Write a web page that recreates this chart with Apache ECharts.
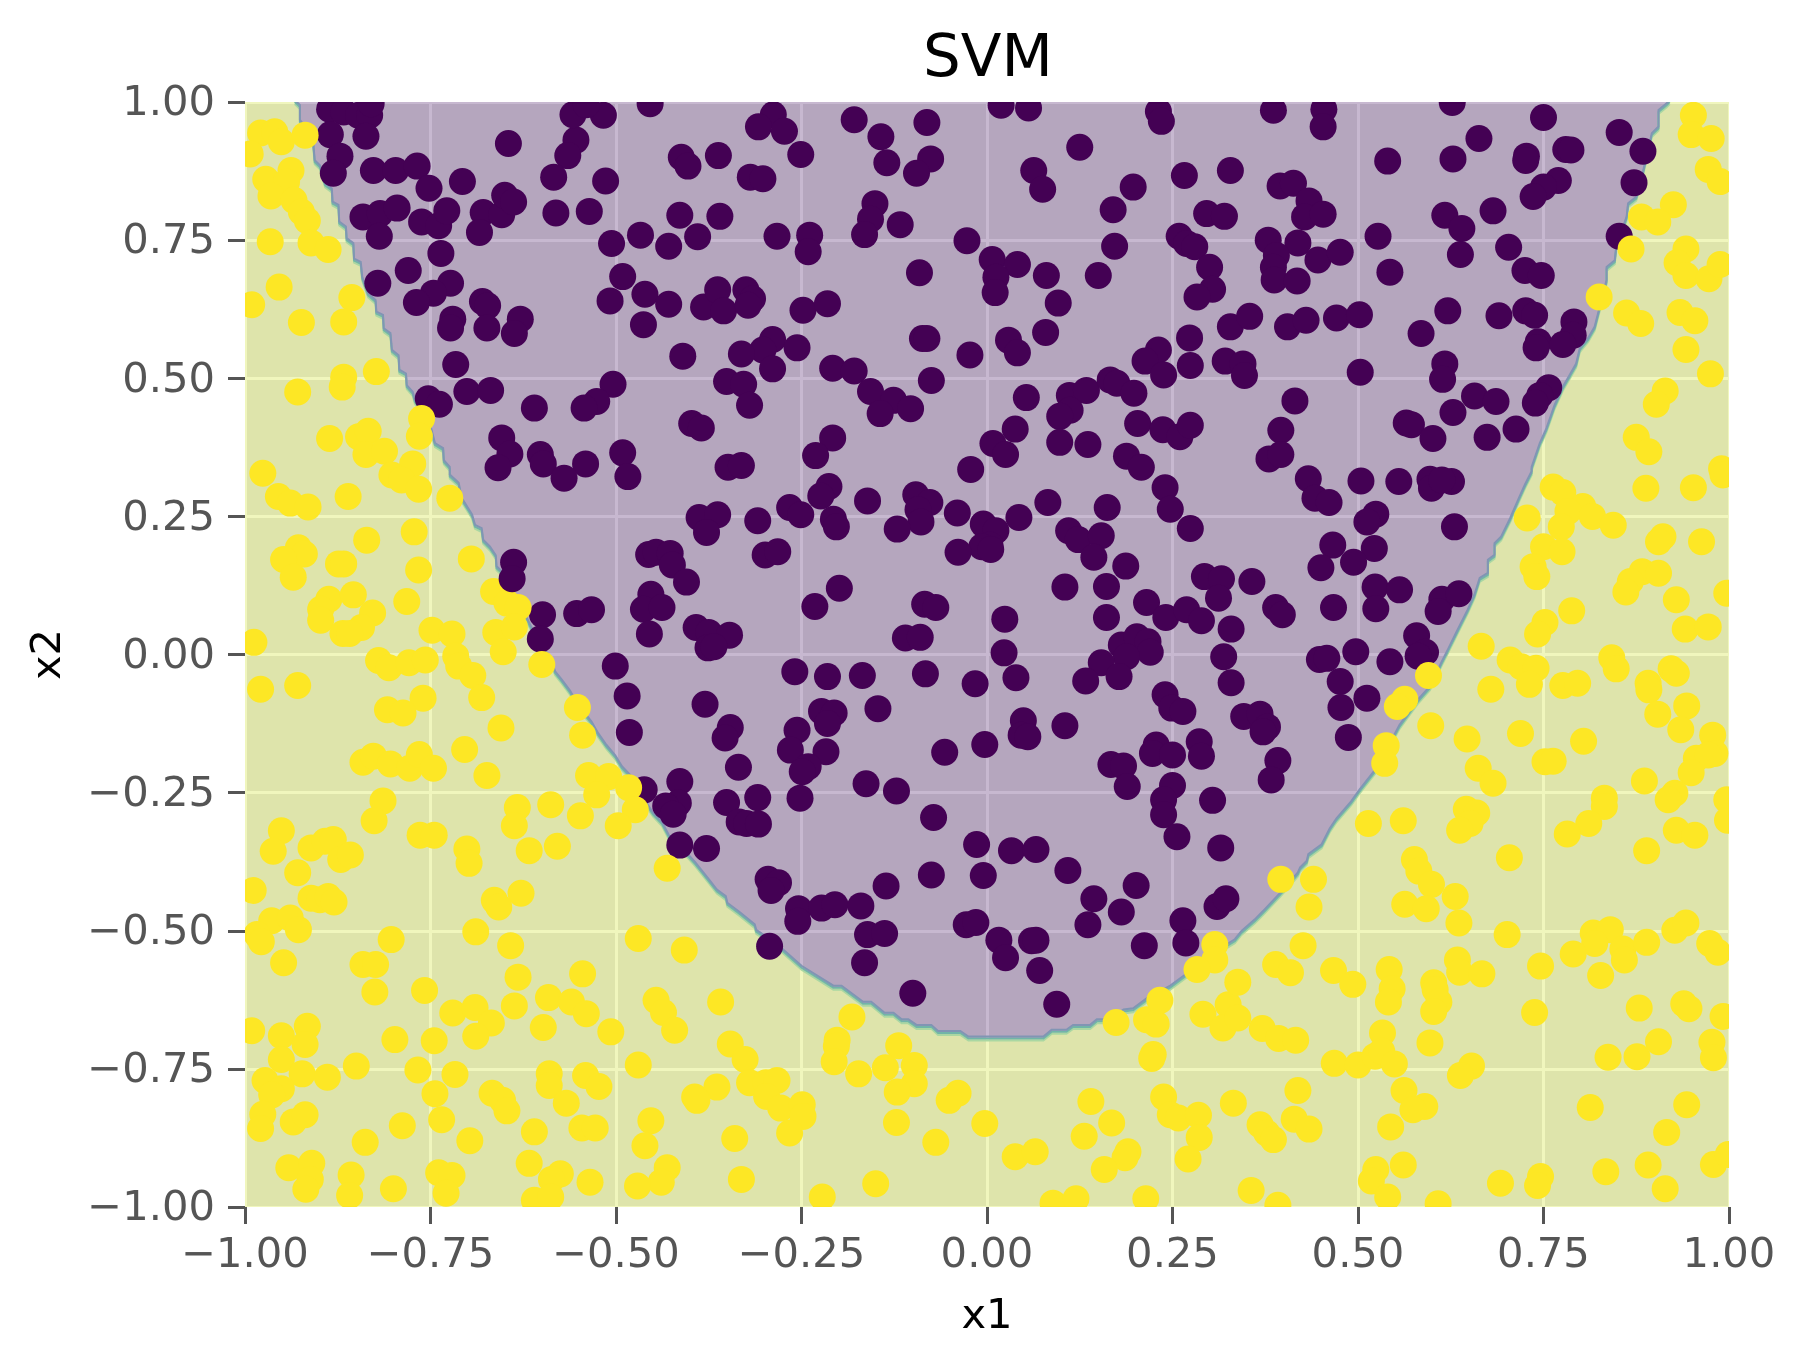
<!DOCTYPE html>
<html>
<head>
<meta charset="utf-8">
<title>SVM</title>
<script src="https://cdn.jsdelivr.net/npm/echarts@6/dist/echarts.min.js"></script>
<style>
html,body{margin:0;padding:0;background:#fff}
#chart{width:1807px;height:1365px}
</style>
</head>
<body>
<div id="chart"></div>
<script>
const axisTicks = [-1, -0.75, -0.5, -0.25, 0, 0.25, 0.5, 0.75, 1];

// Decision boundary of the classifier, walked from the top left over the bottom to the top right.
const decisionEdge = [
[-.933,1],[-.926,.991],[-.926,.964],[-.912,.94],[-.908,.922],[-.906,.891],[-.899,.882],[-.892,.849],[-.883,.84],[-.882,.816],
[-.874,.81],[-.873,.78],[-.864,.771],[-.863,.75],[-.854,.741],[-.853,.713],[-.844,.707],[-.842,.68],[-.834,.65],[-.824,.638],
[-.823,.617],[-.814,.611],[-.813,.587],[-.804,.578],[-.802,.548],[-.793,.538],[-.792,.512],[-.783,.505],[-.782,.484],[-.774,.472],
[-.771,.457],[-.762,.442],[-.751,.415],[-.744,.379],[-.733,.37],[-.732,.348],[-.724,.336],[-.724,.322],[-.712,.307],[-.708,.28],
[-.694,.25],[-.69,.231],[-.681,.225],[-.679,.204],[-.67,.192],[-.662,.176],[-.661,.156],[-.653,.146],[-.641,.111],[-.627,.087],
[-.62,.062],[-.611,.038],[-.602,.014],[-.589,-.007],[-.582,-.034],[-.573,-.049],[-.562,-.069],[-.551,-.094],[-.533,-.125],[-.524,-.146],
[-.513,-.167],[-.501,-.186],[-.492,-.206],[-.479,-.224],[-.459,-.272],[-.45,-.29],[-.438,-.307],[-.429,-.33],[-.416,-.348],[-.403,-.365],
[-.393,-.38],[-.375,-.41],[-.364,-.429],[-.352,-.441],[-.35,-.453],[-.333,-.47],[-.313,-.492],[-.311,-.502],[-.299,-.513],[-.275,-.537],
[-.25,-.567],[-.207,-.603],[-.196,-.603],[-.167,-.632],[-.156,-.632],[-.138,-.652],[-.126,-.652],[-.115,-.664],[-.106,-.664],[-.095,-.674],
[-.075,-.674],[-.066,-.685],[-.036,-.685],[-.025,-.695],[.076,-.695],[.087,-.683],[.107,-.683],[.116,-.674],[.139,-.674],[.148,-.664],
[.166,-.664],[.184,-.646],[.197,-.644],[.215,-.626],[.247,-.603],[.265,-.585],[.287,-.564],[.305,-.543],[.334,-.519],[.343,-.504],
[.361,-.483],[.372,-.468],[.395,-.435],[.419,-.398],[.422,-.389],[.431,-.377],[.433,-.365],[.451,-.347],[.462,-.318],[.471,-.3],
[.491,-.269],[.502,-.248],[.516,-.224],[.525,-.209],[.556,-.131],[.568,-.109],[.581,-.085],[.597,-.061],[.613,-.016],[.622,.008],
[.633,.038],[.648,.078],[.657,.105],[.664,.135],[.675,.144],[.675,.168],[.684,.177],[.684,.198],[.693,.21],[.705,.243],
[.716,.277],[.725,.304],[.734,.328],[.734,.336],[.745,.379],[.754,.406],[.765,.448],[.776,.481],[.785,.502],[.794,.523],
[.799,.551],[.81,.569],[.819,.59],[.835,.674],[.835,.698],[.846,.71],[.848,.735],[.862,.789],[.864,.813],[.875,.825],
[.884,.87],[.896,.94],[.905,.952],[.905,.982],[.916,.994],[.92,1]
];

// Samples labelled 0 (dark markers).
const classZero = [
[-.886,.987],[-.867,.982],[-.847,.976],[-.832,.976],[-.83,.997],[-.885,.941],[-.837,.938],[-.872,.902],[-.881,.871],[-.827,.876],
[-.797,.876],[-.768,.884],[-.752,.844],[-.707,.856],[-.841,.792],[-.818,.798],[-.795,.808],[-.819,.757],[-.762,.783],[-.739,.776],
[-.728,.803],[-.679,.8],[-.654,.796],[-.65,.831],[-.638,.819],[-.684,.764],[-.736,.726],[-.78,.695],[-.821,.672],[-.723,.672],
[-.746,.654],[-.769,.637],[-.68,.639],[-.673,.631],[-.72,.607],[-.723,.591],[-.674,.591],[-.629,.607],[-.637,.581],[-.716,.525],
[-.753,.463],[-.738,.453],[-.701,.476],[-.669,.478],[-.61,.446],[-.504,.489],[-.526,.458],[-.543,.446],[-.654,.392],[-.643,.363],
[-.602,.362],[-.598,.345],[-.659,.338],[-.541,.345],[-.491,.365],[-.645,.925],[-.554,.931],[-.565,.903],[-.584,.864],[-.558,.977],
[-.517,.976],[-.54,.995],[-.454,.997],[-.514,.857],[-.581,.799],[-.536,.802],[-.506,.744],[-.467,.759],[-.429,.739],[-.414,.795],
[-.36,.793],[-.39,.756],[-.412,.9],[-.403,.884],[-.362,.903],[-.491,.684],[-.461,.652],[-.508,.64],[-.429,.634],[-.463,.597],
[-.382,.629],[-.363,.66],[-.355,.622],[-.41,.54],[-.351,.494],[-.398,.418],[-.385,.41],[-.349,.339],
[-.288,.977],[-.308,.955],[-.273,.947],[-.251,.905],[-.319,.864],[-.302,.861],[-.179,.968],[-.143,.937],[-.081,.963],[-.135,.89],
[-.076,.897],[-.095,.871],[-.151,.816],[-.157,.788],[-.165,.76],[-.117,.778],[-.283,.757],[-.239,.759],[-.241,.729],[-.027,.749],
[-.091,.691],[.007,.715],[.041,.706],[.012,.683],[.011,.655],[.08,.686],[.096,.636],[-.325,.66],[-.316,.644],[-.322,.632],
[-.248,.623],[-.215,.635],[-.087,.572],[-.081,.572],[-.023,.542],[.029,.569],[.041,.546],[.079,.583],[-.289,.57],[-.302,.551],
[-.331,.544],[-.256,.555],[-.289,.517],[-.328,.489],[-.32,.451],[-.208,.518],[-.179,.513],[-.157,.476],[-.126,.46],[-.144,.436],
[-.103,.445],[-.075,.496],[-.208,.392],[-.231,.36],[-.331,.342],[-.022,.335],[.053,.465],[.038,.408],[.008,.382],[.025,.362],
[.111,.469],[.134,.478],[.166,.497],[.175,.491],[.198,.473],[.112,.442],[.098,.431],[.098,.384],[.136,.38],[.203,.418],
[.237,.407],[.26,.394],[.274,.415],[.188,.359],[.208,.339],[.019,.994],[.056,.989],[.125,.918],[.063,.876],[.075,.842],
[.197,.846],[.17,.805],[.266,.867],[.328,.876],[.231,.983],[.235,.965],[.296,.798],[.32,.793],[.259,.757],[.269,.744],
[.28,.738],[.3,.701],[.304,.661],[.283,.647],[.172,.739],[.15,.686],[.328,.593],[.273,.573],[.274,.523],[.321,.531],
[.231,.551],[.213,.531],[.238,.506],
[.386,.985],[.454,.987],[.453,.955],[.627,.999],[.75,.972],[.852,.945],[.884,.911],[.663,.934],[.628,.897],[.54,.893],
[.727,.902],[.726,.894],[.78,.914],[.787,.913],[.872,.854],[.395,.848],[.413,.853],[.434,.821],[.428,.792],[.453,.797],
[.77,.858],[.75,.846],[.736,.829],[.682,.803],[.617,.795],[.64,.771],[.852,.757],[.527,.757],[.379,.75],[.419,.745],
[.39,.722],[.386,.701],[.387,.678],[.418,.676],[.446,.714],[.476,.728],[.543,.692],[.638,.724],[.703,.737],[.725,.695],
[.747,.686],[.354,.612],[.405,.593],[.43,.605],[.471,.609],[.502,.615],[.621,.622],[.585,.581],[.69,.613],[.726,.622],
[.738,.614],[.791,.602],[.79,.578],[.743,.566],[.74,.555],[.776,.561],[.345,.526],[.347,.505],[.503,.511],[.617,.526],
[.614,.498],[.657,.468],[.686,.458],[.757,.483],[.745,.469],[.739,.455],[.628,.438],[.415,.459],[.565,.419],[.572,.416],
[.601,.391],[.674,.393],[.713,.408],[.396,.406],[.38,.354],[.396,.362],
[-.57,.319],[-.484,.322],[-.638,.167],[-.64,.137],[-.599,.072],[-.602,.028],[-.553,.074],[-.533,.081],[-.501,-.021],[-.485,-.075],
[-.482,-.141],[-.38,-.09],[-.388,.248],[-.363,.253],[-.378,.221],[-.456,.181],[-.446,.185],[-.427,.183],[-.424,.162],[-.405,.131],
[-.453,.109],[-.463,.082],[-.438,.085],[-.455,.037],[-.392,.049],[-.375,.04],[-.347,.035],[-.376,.012],[-.368,.014],[-.346,-.132],
[-.353,-.151],[-.335,-.204],[-.414,-.23],[-.462,-.245],[-.416,-.269],[-.433,-.274],[-.423,-.289],[-.351,-.268],[-.334,-.303],
[-.213,.304],[-.224,.287],[-.161,.278],[-.266,.266],[-.251,.253],[-.309,.242],[-.207,.245],[-.203,.231],[-.096,.289],[-.077,.275],
[-.093,.262],[-.089,.24],[-.121,.227],[-.04,.256],[-.005,.236],[.012,.224],[.043,.248],[.082,.275],[.162,.266],[.11,.224],
[.123,.208],[.154,.215],[.144,.176],[.187,.16],[.004,.198],[-.007,.195],[.005,.19],[-.039,.185],[-.299,.18],[-.282,.186],
[-.199,.12],[-.232,.087],[.105,.122],[.161,.123],[.161,.067],[.024,.064],[-.084,.091],[-.069,.085],[-.11,.03],[-.09,.031],
[.023,.003],[.293,.141],[.316,.137],[.312,.102],[.215,.094],[.241,.067],[.269,.081],[.289,.061],[.24,.302],[.247,.263],
[.274,.228],[.181,.017],[.202,.032],[.217,.023],[.22,.004],[.188,-.004],[.154,-.015],[.133,-.048],[.178,-.04],[.329,.046],
[.319,-.004],[.329,-.051],[-.259,-.031],[-.215,-.04],[-.168,-.038],[-.083,-.035],[-.016,-.053],[.039,-.042],[-.147,-.098],[-.223,-.103],
[-.206,-.106],[-.215,-.125],[-.256,-.137],[-.265,-.173],[-.217,-.176],[-.241,-.203],[-.249,-.212],[-.057,-.177],[-.003,-.163],[.049,-.12],
[.046,-.146],[.055,-.149],[.105,-.129],[.24,-.073],[.249,-.097],[.264,-.103],[.286,-.158],[.289,-.184],[.228,-.164],[.223,-.179],
[.25,-.182],[.167,-.199],[.184,-.202],[.189,-.239],[.25,-.237],[.238,-.263],[.238,-.29],[.304,-.264],[.256,-.33],[-.163,-.234],
[-.122,-.247],[-.309,-.259],[-.252,-.26],[-.072,-.295],[-.324,-.306],[-.308,-.307],
[.433,.318],[.504,.314],[.555,.313],[.597,.317],[.599,.301],[.626,.313],[.613,.316],[.442,.283],[.461,.275],[.524,.254],
[.512,.24],[.63,.231],[.466,.198],[.522,.192],[.45,.157],[.494,.167],[.523,.122],[.556,.117],[.357,.132],[.389,.085],
[.398,.072],[.467,.085],[.524,.083],[.613,.1],[.636,.11],[.608,.078],[.579,.034],[.591,.004],[.581,-.003],[.448,-.009],
[.458,-.007],[.497,.005],[.543,-.013],[.476,-.049],[.512,-.079],[.477,-.096],[.346,-.112],[.368,-.108],[.378,-.131],[.372,-.14],
[.487,-.15],[.392,-.192],[.383,-.227],
[-.414,-.345],[-.378,-.351],
[-.014,-.344],[.033,-.355],[.066,-.353],[.109,-.391],[.315,-.35],[-.295,-.407],[-.281,-.413],[-.291,-.427],[-.075,-.399],[-.005,-.4],
[-.136,-.419],[-.254,-.46],[-.255,-.483],[-.223,-.459],[-.205,-.453],[-.17,-.455],[-.161,-.507],[-.138,-.505],[-.165,-.558],[-.293,-.528],
[-.1,-.613],[-.028,-.489],[-.015,-.485],[.016,-.517],[.025,-.549],[.06,-.518],[.066,-.517],[.071,-.572],[.094,-.633],[.144,-.442],
[.136,-.489],[.181,-.466],[.201,-.418],[.212,-.527],[.264,-.482],[.268,-.522],[.31,-.456],[.322,-.442]
];

// Samples labelled 1 that sit beneath the dark markers.
const classOneBelow = [[-.665,.114],[-.647,.093]];

// Samples labelled 1 (yellow markers).
const classOne = [
[-.979,.944],[-.96,.946],[-.951,.928],[-.919,.94],[-.993,.906],[-.972,.86],[-.938,.876],[-.944,.855],[-.965,.83],[-.934,.822],
[-.924,.801],[-.916,.785],[-.966,.747],[-.911,.745],[-.888,.733],[-.954,.665],[-.991,.633],[-.856,.646],[-.924,.601],[-.867,.602],
[-.867,.502],[-.869,.484],[-.823,.512],[-.929,.475],[-.762,.427],[-.765,.395],[-.886,.391],[-.847,.394],[-.834,.404],[-.837,.362],
[-.812,.368],[-.774,.345],
[.952,.976],[.949,.941],[.976,.934],[.972,.878],[.988,.856],[.925,.814],[.882,.792],[.904,.783],[.868,.734],[.942,.734],
[.93,.709],[.942,.686],[.973,.68],[.988,.706],[.825,.647],[.862,.618],[.881,.599],[.934,.619],[.954,.604],[.942,.552],
[.975,.508],[.914,.477],[.902,.453],[.875,.393],[.892,.367],[.99,.336],
[-.976,.328],[-.955,.286],[-.939,.274],[-.915,.267],[-.861,.286],[-.802,.325],[-.789,.316],[-.766,.299],[-.724,.283],[-.772,.222],
[-.836,.207],[-.928,.193],[-.92,.182],[-.948,.172],[-.935,.14],[-.874,.164],[-.867,.164],[-.695,.173],[-.766,.153],[-.887,.1],
[-.854,.108],[-.898,.082],[-.898,.062],[-.782,.096],[-.632,.085],[-.828,.075],[-.843,.049],[-.868,.038],[-.859,.038],[-.988,.022],
[-.748,.044],[-.721,.037],[-.662,.04],[-.637,.05],[-.82,-.011],[-.806,-.024],[-.779,-.015],[-.757,-.01],[-.716,-.003],[-.712,-.021],
[-.693,-.038],[-.652,.005],[-.6,-.018],[-.979,-.063],[-.929,-.056],[-.76,-.079],[-.808,-.1],[-.787,-.106],[-.681,-.078],[-.552,-.096],
[-.655,-.133],[-.545,-.146],[-.704,-.172],[-.841,-.195],[-.827,-.184],[-.804,-.198],[-.778,-.206],[-.765,-.181],[-.746,-.206],[-.674,-.219],
[-.537,-.219],[-.51,-.221],[-.526,-.254],[-.483,-.241],[-.814,-.265],[-.826,-.301],[-.633,-.277],[-.588,-.272],[-.548,-.292],[-.474,-.281],
[-.637,-.31],[-.497,-.31],[-.951,-.319],[-.764,-.327],[-.745,-.327],
[.763,.303],[.776,.293],[.888,.301],[.952,.302],[.992,.325],[.803,.268],[.783,.259],[.816,.25],[.844,.234],[.728,.247],
[.774,.231],[.911,.213],[.905,.204],[.963,.204],[.75,.195],[.775,.186],[.736,.159],[.741,.141],[.883,.15],[.867,.132],
[.905,.147],[.861,.113],[.929,.099],[.997,.111],[.788,.079],[.752,.058],[.742,.037],[.941,.046],[.972,.05],[.666,.015],
[.705,-.01],[.72,-.022],[.74,-.025],[.731,-.054],[.679,-.063],[.776,-.056],[.796,-.052],[.842,-.006],[.848,-.026],[.922,-.026],
[.929,-.034],[.891,-.052],[.892,-.064],[.904,-.108],[.943,-.093],[.935,-.136],[.595,-.038],[.563,-.081],[.553,-.094],[.598,-.129],
[.647,-.153],[.719,-.143],[.804,-.157],[.978,-.146],[.538,-.165],[.536,-.197],[.662,-.206],[.682,-.233],[.752,-.194],[.763,-.193],
[.956,-.188],[.981,-.179],[.972,-.182],[.949,-.214],[.886,-.229],[.927,-.251],[.918,-.263],[.832,-.26],[.832,-.275],[.997,-.263],
[.998,-.3],[.646,-.28],[.66,-.287],[.651,-.306],[.637,-.318],[.514,-.306],[.561,-.301],[.811,-.306],[.782,-.325],[.929,-.318],
[.954,-.327],
[-.962,-.356],[-.911,-.35],[-.892,-.338],[-.881,-.335],[-.871,-.371],[-.858,-.363],[-.929,-.395],[-.989,-.427],[-.911,-.441],[-.899,-.444],
[-.888,-.438],[-.88,-.448],[-.964,-.482],[-.939,-.477],[-.928,-.498],[-.984,-.507],[-.978,-.52],[-.803,-.516],[-.948,-.558],[-.841,-.561],
[-.824,-.561],[-.825,-.611],[-.758,-.608],[-.701,-.352],[-.698,-.378],[-.617,-.355],[-.579,-.347],[-.431,-.387],[-.628,-.432],[-.664,-.445],
[-.658,-.457],[-.689,-.502],[-.642,-.527],[-.632,-.584],[-.545,-.578],[-.47,-.514],[-.408,-.535],[-.591,-.621],[-.56,-.629],[-.54,-.65],
[-.507,-.683],[-.637,-.636],[-.72,-.649],[-.69,-.639],[-.668,-.667],[-.689,-.691],[-.598,-.675],[-.446,-.626],[-.436,-.648],[-.421,-.68],
[-.359,-.629],[-.346,-.705],[-.991,-.681],[-.951,-.69],[-.916,-.673],[-.919,-.706],[-.951,-.733],[-.798,-.697],[-.745,-.699],[-.47,-.743],
[-.973,-.771],[-.923,-.759],[-.951,-.786],[-.964,-.797],[-.889,-.765],[-.85,-.745],[-.767,-.752],[-.717,-.76],[-.744,-.795],[-.59,-.759],
[-.59,-.78],[-.541,-.762],[-.523,-.782],[-.567,-.812],[-.667,-.794],[-.653,-.807],[-.647,-.826],[-.394,-.801],[-.364,-.783],[-.391,-.807],
[-.976,-.832],[-.979,-.858],[-.935,-.846],[-.919,-.833],[-.788,-.853],[-.838,-.883],[-.735,-.842],[-.697,-.88],[-.61,-.864],[-.546,-.857],
[-.528,-.857],[-.453,-.844],[-.461,-.889],[-.34,-.876],[-.941,-.929],[-.91,-.921],[-.912,-.95],[-.918,-.968],[-.857,-.942],[-.859,-.979],
[-.8,-.967],[-.739,-.938],[-.721,-.943],[-.729,-.975],[-.617,-.921],[-.575,-.94],[-.587,-.95],[-.61,-.988],[-.588,-.982],[-.535,-.955],
[-.431,-.929],[-.439,-.955],[-.471,-.962],
[-.182,-.656],[-.202,-.698],[-.203,-.709],[-.206,-.737],[-.173,-.759],[-.119,-.708],[-.137,-.748],[-.098,-.744],[-.098,-.777],[-.121,-.792],
[-.122,-.847],[-.039,-.794],[-.051,-.807],[-.003,-.849],[-.069,-.883],[-.326,-.733],[-.32,-.775],[-.298,-.775],[-.283,-.771],[-.297,-.8],
[-.278,-.821],[-.249,-.815],[-.248,-.836],[-.266,-.866],[-.331,-.95],[-.15,-.958],[-.222,-.982],[.038,-.909],[.065,-.9],[.174,-.666],
[.215,-.661],[.228,-.669],[.233,-.626],[.224,-.724],[.222,-.731],[.307,-.525],[.307,-.553],[.283,-.57],[.291,-.651],[.325,-.634],
[.318,-.676],[.238,-.801],[.247,-.833],[.258,-.839],[.285,-.834],[.286,-.874],[.271,-.913],[.14,-.809],[.168,-.848],[.131,-.872],
[.19,-.9],[.186,-.911],[.158,-.932],[.214,-.985],[.089,-.993],[.12,-.985],[.332,-.812],
[.396,-.407],[.44,-.407],[.434,-.457],[.426,-.527],[.389,-.561],[.409,-.576],[.338,-.593],[.467,-.572],[.493,-.597],[.542,-.57],
[.546,-.605],[.541,-.629],[.576,-.371],[.582,-.392],[.599,-.416],[.563,-.452],[.592,-.46],[.631,-.438],[.636,-.486],[.704,-.368],
[.701,-.507],[.889,-.355],[.634,-.553],[.637,-.575],[.667,-.578],[.746,-.564],[.738,-.648],[.602,-.594],[.604,-.607],[.609,-.629],
[.602,-.646],[.597,-.703],[.338,-.658],[.371,-.677],[.393,-.695],[.416,-.698],[.533,-.685],[.468,-.74],[.5,-.743],[.523,-.727],
[.532,-.718],[.549,-.741],[.653,-.745],[.638,-.762],[.419,-.789],[.562,-.789],[.59,-.818],[.574,-.824],[.544,-.855],[.368,-.851],
[.377,-.866],[.386,-.878],[.414,-.841],[.434,-.859],[.524,-.932],[.518,-.953],[.561,-.924],[.54,-.982],[.356,-.97],[.392,-.997],
[.608,-.994],[.692,-.957],[.746,-.945],[.742,-.961],[.817,-.504],[.84,-.498],[.819,-.523],[.79,-.542],[.857,-.533],[.859,-.553],
[.827,-.581],[.889,-.521],[.927,-.499],[.942,-.486],[.974,-.523],[.985,-.539],[.879,-.64],[.939,-.632],[.946,-.641],[.992,-.655],
[.977,-.702],[.979,-.73],[.837,-.729],[.876,-.728],[.905,-.701],[.813,-.82],[.943,-.815],[.916,-.865],[.834,-.936],[.891,-.924],
[.914,-.967],[.979,-.923],[.999,-.905]
];

const FONT = '"DejaVu Sans"';
const TICK_COLOR = '#555555';
const MARKER_RADIUS = 13.5;
const fmtTick = v => (v < 0 ? '\u2212' : '') + Math.abs(v).toFixed(2);

// Filled classes as translucent layers over the grid, with the contour bands along the edge.
function renderRegions(params, api) {
  const edge = decisionEdge.map(p => api.coord(p));
  const outer = [[-1, 1], [-1, -1], [1, -1], [1, 1]].map(p => api.coord(p));
  const shifted = dy => edge.map(p => [p[0], p[1] + dy]);
  const band = (dy, stroke) => ({
    type: 'polyline',
    shape: { points: shifted(dy) },
    style: { fill: null, stroke, lineWidth: 2 }
  });
  return {
    type: 'group',
    children: [
      { type: 'polygon', shape: { points: outer.concat(edge.slice().reverse()) },
        style: { fill: 'rgba(205,225,35,0.3)' } },
      { type: 'polygon', shape: { points: edge },
        style: { fill: 'rgba(71,19,101,0.3)' } },
      band(2, '#aad7a2'),
      band(0, '#72b5a8'),
      band(-2, '#8195b4')
    ]
  };
}

// Each sample is a filled circle placed through the axes; the series clip trims those on the frame.
const markerSeries = (name, data, fill, z) => ({
  type: 'custom', name, data, z, clip: true, silent: true, animation: false,
  encode: { x: 0, y: 1 },
  renderItem(params, api) {
    const c = api.coord([api.value(0), api.value(1)]);
    return { type: 'circle', shape: { cx: c[0], cy: c[1], r: MARKER_RADIUS }, style: { fill } };
  }
});

const axisBase = {
  type: 'value', min: -1, max: 1, interval: 0.25, nameLocation: 'middle',
  nameTextStyle: { fontFamily: FONT, fontSize: 41.67, color: '#000' },
  axisLine: { show: false, onZero: false },
  axisTick: { show: true, length: 17, lineStyle: { color: TICK_COLOR, width: 3 } },
  axisLabel: { fontFamily: FONT, fontSize: 41.67, color: TICK_COLOR, formatter: fmtTick, hideOverlap: false, showMinLabel: true, showMaxLabel: true },
  splitLine: { show: true, lineStyle: { color: '#fff', width: 3 } }
};

const chart = echarts.init(document.getElementById('chart'), null, { renderer: 'canvas' });
chart.setOption({
  animation: false,
  backgroundColor: '#fff',
  title: {
    text: 'SVM', left: 983, top: 26, textAlign: 'center',
    textStyle: { fontFamily: FONT, fontSize: 59.5, fontWeight: 'normal', color: '#000' }
  },
  grid: { left: 245, top: 102, width: 1484, height: 1105, show: true, backgroundColor: '#E5E5E5', borderWidth: 0 },
  xAxis: Object.assign({}, axisBase, { name: 'x1', nameGap: 89,
    axisLabel: Object.assign({}, axisBase.axisLabel, { margin: 28 }) }),
  yAxis: Object.assign({}, axisBase, { name: 'x2', nameGap: 175,
    axisLabel: Object.assign({}, axisBase.axisLabel, { margin: 30, verticalAlign: 'top', lineHeight: 5 }) }),
  series: [
    { type: 'custom', renderItem: renderRegions, data: [[0, 0]], z: 1, silent: true, clip: true, animation: false },
    markerSeries('class 1 (lower)', classOneBelow, '#FDE725', 2),
    markerSeries('class 0', classZero, '#440154', 3),
    markerSeries('class 1', classOne, '#FDE725', 4)
  ]
});
</script>
</body>
</html>
